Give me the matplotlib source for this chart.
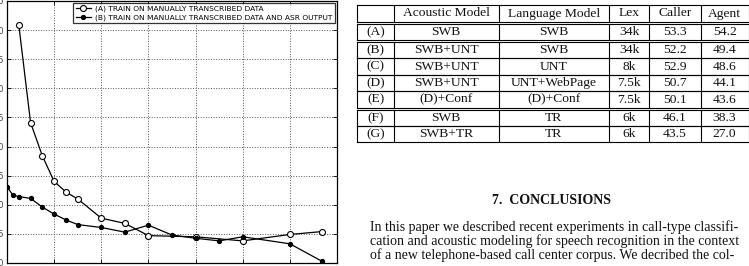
import matplotlib.pyplot as plt

# --- chart data ---
a_x = [25, 50, 75, 100, 125, 150, 200, 250, 300, 400, 500, 600, 668]
a_y = [60.9, 44.1, 38.4, 34.0, 32.2, 31.0, 27.7, 26.8, 24.7, 24.5, 23.8, 24.9, 25.4]
b_x = [1, 12, 25, 50, 75, 100, 125, 150, 200, 250, 300, 350, 400, 450, 500, 600, 668]
b_y = [33.0, 31.7, 31.4, 31.1, 29.6, 28.4, 27.4, 26.6, 26.1, 25.3, 26.5, 24.8, 24.25, 23.8, 24.5, 23.3, 20.3]
label_a = "(A) TRAIN ON MANUALLY TRANSCRIBED DATA"
label_b = "(B) TRAIN ON MANUALLY TRANSCRIBED DATA AND ASR OUTPUT"
x_ticks = [0, 100, 200, 300, 400, 500, 600, 700]
y_ticks = [20, 25, 30, 35, 40, 45, 50, 55, 60, 65]

# --- table data ---
header = ["", "Acoustic Model", "Language Model", "Lex", "Caller", "Agent"]
row_ids = ["(A)", "(B)", "(C)", "(D)", "(E)", "(F)", "(G)"]
acoustic = ["SWB", "SWB+UNT", "SWB+UNT", "SWB+UNT", "(D)+Conf", "SWB", "SWB+TR"]
language = ["SWB", "SWB", "UNT", "UNT+WebPage", "(D)+Conf", "TR", "TR"]
lex = ["34k", "34k", "8k", "7.5k", "7.5k", "6k", "6k"]
caller = ["53.3", "52.2", "52.9", "50.7", "50.1", "46.1", "43.5"]
agent = ["54.2", "49.4", "48.6", "44.1", "43.6", "38.3", "27.0"]

heading = "7.  CONCLUSIONS"
body = [
    "In this paper we described recent experiments in call-type classifi-",
    "cation and acoustic modeling for speech recognition in the context",
    "of a new telephone-based call center corpus. We decribed the col-",
]

W, H = 749, 266
fig = plt.figure(figsize=(W / 100, H / 100), dpi=100)

# ---------------- line chart ----------------
ax = fig.add_axes([7 / W, 3 / H, 330 / W, 262 / H])
ax.plot(a_x, a_y, "-o", color="black", lw=0.9, ms=4.3, mfc="white", mec="black",
        mew=0.8, label=label_a)
ax.plot(b_x, b_y, "-o", color="black", lw=0.9, ms=2.8, mfc="black", mec="black",
        label=label_b)
ax.set_xlim(0, 700)
ax.set_ylim(20, 65)
ax.set_xticks(x_ticks)
ax.set_yticks(y_ticks)
ax.grid(True, ls=":", lw=0.7, color="#555555")
ax.tick_params(direction="in", length=3, width=0.6, labelsize=6, pad=2,
               top=True, right=True, colors="black", labelcolor="#444444")
for s in ax.spines.values():
    s.set_linewidth(0.9)
leg = ax.legend(loc="upper right", fontsize=5.4, frameon=True, fancybox=False,
                edgecolor="black", borderaxespad=0.3, handlelength=2.0,
                borderpad=0.3, labelspacing=0.25, handletextpad=0.6)
leg.get_frame().set_linewidth(0.9)

# ---------------- table + text (pixel coordinates) ----------------
tx = fig.add_axes([0, 0, 1, 1], zorder=-1)
tx.set_xlim(0, W)
tx.set_ylim(H, 0)
tx.axis("off")

serif = ["Liberation Serif", "DejaVu Serif"]
cols = [357, 394, 498.5, 609, 649, 700.5, 748.5]
tops = [4.5, 23.5, 41.5, 58, 74.5, 91, 109.5, 125.5]
bots = [21.5, 39.5, 58, 74.5, 91, 107.5, 125.5, 141.5]
lw = 0.8

for t, b in zip(tops, bots):
    tx.plot([cols[0], cols[-1]], [t, t], color="black", lw=lw)
    tx.plot([cols[0], cols[-1]], [b, b], color="black", lw=lw)
    for c in cols:
        tx.plot([c, c], [t, b], color="black", lw=lw)

rows = [header] + [list(r) for r in zip(row_ids, acoustic, language, lex, caller, agent)]
for r, (t, b) in enumerate(zip(tops, bots)):
    yc = (t + b) / 2
    for c, txt in enumerate(rows[r]):
        xc = (cols[c] + cols[c + 1]) / 2
        tx.text(xc, yc + 0.5, txt, ha="center", va="center", fontsize=9.7,
                family=serif, color="#111111")

tx.text(552, 200, heading, ha="center", va="center", fontsize=10,
        fontweight="bold", family=serif, color="#111111")
for i, line in enumerate(body):
    tx.text(370, 227 + 14 * i, line, ha="left", va="center", fontsize=10,
            family=serif, color="#111111")

fig.savefig("out.png", dpi=100)
